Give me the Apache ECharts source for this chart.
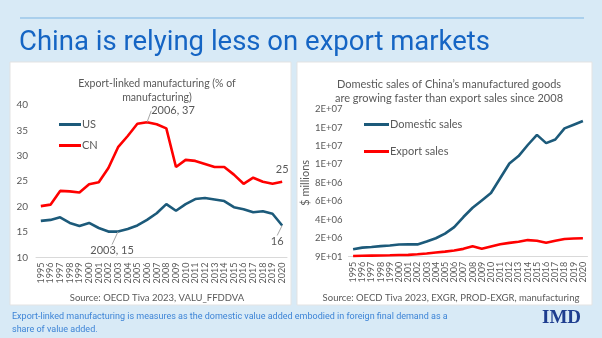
<!DOCTYPE html>
<html><head><meta charset="utf-8">
<script src="https://cdn.jsdelivr.net/npm/echarts@6/dist/echarts.min.js"></script>
<style>html,body{margin:0;padding:0;background:#d8eaf6;}#c{width:602px;height:338px;}</style>
</head><body><div id="c"></div>
<script>
var years = ['1995','1996','1997','1998','1999','2000','2001','2002','2003','2004','2005','2006','2007','2008','2009','2010','2011','2012','2013','2014','2015','2016','2017','2018','2019','2020'];
var usShare = [17.2,17.4,17.9,16.8,16.2,16.8,15.8,15.1,15.1,15.6,16.3,17.4,18.7,20.5,19.2,20.5,21.5,21.7,21.4,21.1,19.9,19.5,18.9,19.1,18.6,16.3];
var cnShare = [20.1,20.4,23.1,23.0,22.8,24.4,24.8,27.6,31.7,33.9,36.3,36.6,36.2,35.4,27.8,29.2,29.0,28.4,27.8,27.8,26.3,24.5,25.7,24.9,24.5,24.9];
var domesticSales = [0.80e6,0.98e6,1.05e6,1.15e6,1.22e6,1.32e6,1.33e6,1.33e6,1.65e6,2.0e6,2.5e6,3.2e6,4.3e6,5.3e6,6.1e6,6.9e6,8.5e6,10.1e6,10.9e6,12.1e6,13.2e6,12.3e6,12.7e6,13.9e6,14.3e6,14.7e6];
var exportSales = [0.08e6,0.1e6,0.12e6,0.13e6,0.15e6,0.18e6,0.2e6,0.27e6,0.35e6,0.45e6,0.55e6,0.68e6,0.85e6,1.12e6,0.85e6,1.1e6,1.34e6,1.5e6,1.62e6,1.8e6,1.73e6,1.5e6,1.72e6,1.92e6,1.97e6,2.0e6];
var rightTickLabels = ['9E+01','2E+06','4E+06','6E+06','8E+06','1E+07','1E+07','1E+07','2E+07'];

var FONT = 'Lato';
var GRAY = '#595959';
var BLUE = '#1c5a7a';
var RED = '#ff0000';

function usData(){
  return usShare.map(function(v,i){
    if (i===8) return {value:v, label:{show:true, formatter:'2003, 15'}, labelLine:{show:true}};
    if (i===25) return {value:v, label:{show:true, formatter:'16'}, labelLine:{show:true}};
    return v;
  });
}
function cnData(){
  return cnShare.map(function(v,i){
    if (i===11) return {value:v, label:{show:true, formatter:'2006, 37'}, labelLine:{show:true}};
    if (i===25) return {value:v, label:{show:true, formatter:'25'}, labelLine:{show:false}};
    return v;
  });
}

var chart = echarts.init(document.getElementById('c'), null, {renderer:'canvas'});
var catAxis = function(gi){ return {
  type:'category', gridIndex:gi, data:years, boundaryGap:true,
  axisLine:{lineStyle:{color:'#d9d9d9'}}, axisTick:{show:false},
  axisLabel:{rotate:90, color:GRAY, fontSize:9, fontFamily:FONT, margin:5, interval:0}
};};

chart.setOption({
  animation:false,
  backgroundColor:'#d8eaf6',
  graphic:[
    {type:'line', shape:{x1:20,y1:18,x2:584,y2:18}, style:{stroke:'#7db5e3', lineWidth:1}, z:-10},
    {type:'text', left:19, top:29, style:{text:'China is relying less on export markets', fill:'#1565c4', font:'27.5px Roboto'}, z:-10},
    {type:'rect', shape:{x:10,y:62,width:281,height:243}, style:{fill:'#ffffff', stroke:'#e3e3e3'}, z:-20},
    {type:'rect', shape:{x:297,y:62,width:295,height:243}, style:{fill:'#ffffff', stroke:'#e3e3e3'}, z:-20},
    {type:'text', left:12, top:310, style:{text:'Export-linked manufacturing is measures as the domestic value added embodied in foreign final demand as a\nshare of value added.', fill:'#3d84d6', font:'9px Roboto', lineHeight:13}, z:-10},
    {type:'text', left:542, top:309, style:{text:'IMD', fill:'#1e3d8f', font:'bold 19px "Liberation Serif"'}, z:-10}
  ],
  title:[
    {text:'Export-linked manufacturing (% of\nmanufacturing)', left:152, top:72, textAlign:'center',
     textStyle:{color:GRAY, fontSize:10.5, fontWeight:'normal', fontFamily:FONT, lineHeight:14}},
    {text:'Domestic sales of China\u2019s manufactured goods\nare growing faster than export sales since 2008', left:444, top:72, textAlign:'center',
     textStyle:{color:GRAY, fontSize:11, fontWeight:'normal', fontFamily:FONT, lineHeight:14}},
    {text:'Source: OECD Tiva 2023, VALU_FFDDVA', left:152, top:288, textAlign:'center',
     textStyle:{color:GRAY, fontSize:9.5, fontWeight:'normal', fontFamily:FONT}},
    {text:'Source: OECD Tiva 2023, EXGR, PROD-EXGR, manufacturing', left:446, top:288, textAlign:'center',
     textStyle:{color:GRAY, fontSize:9.5, fontWeight:'normal', fontFamily:FONT}}
  ],
  legend:[
    {data:['US'], left:54, top:114, icon:'rect', itemWidth:22, itemHeight:3, itemGap:2,
     textStyle:{color:GRAY, fontSize:11, fontFamily:FONT, padding:[0,0,0,-4]}},
    {data:['CN'], left:54, top:135, icon:'rect', itemWidth:22, itemHeight:3, itemGap:2,
     textStyle:{color:GRAY, fontSize:11, fontFamily:FONT, padding:[0,0,0,-4]}},
    {data:['Domestic sales'], left:359, top:114, icon:'rect', itemWidth:25, itemHeight:3,
     textStyle:{color:GRAY, fontSize:11, fontFamily:FONT, padding:[0,0,0,-4]}},
    {data:['Export sales'], left:359, top:141, icon:'rect', itemWidth:25, itemHeight:3,
     textStyle:{color:GRAY, fontSize:11, fontFamily:FONT, padding:[0,0,0,-4]}}
  ],
  grid:[
    {left:36, top:105, width:251, height:152.5, containLabel:false},
    {left:348.5, top:109, width:239, height:147.7, containLabel:false}
  ],
  xAxis:[catAxis(0), catAxis(1)],
  yAxis:[
    {type:'value', gridIndex:0, min:10, max:40, interval:5, splitLine:{show:false},
     axisLine:{show:false}, axisTick:{show:false},
     axisLabel:{color:GRAY, fontSize:10, fontFamily:FONT, margin:8}},
    {type:'value', gridIndex:1, min:0, max:16e6, interval:2e6, splitLine:{show:false},
     axisLine:{show:false}, axisTick:{show:false},
     name:'$ millions', nameLocation:'middle', nameGap:38, nameRotate:90,
     nameTextStyle:{color:GRAY, fontSize:11, fontFamily:FONT},
     axisLabel:{color:GRAY, fontSize:9.5, fontFamily:FONT, margin:6,
       formatter:function(v){ var k=Math.round(v/2e6); return rightTickLabels[k]||''; }}}
  ],
  series:[
    {name:'US', type:'line', xAxisIndex:0, yAxisIndex:0, data:usData(), showSymbol:true, symbol:'circle', symbolSize:0.01,
     color:BLUE, lineStyle:{width:2.6, color:BLUE},
     label:{show:false, color:GRAY, fontSize:11, fontFamily:FONT},
     labelLine:{show:false, lineStyle:{color:'#a6a6a6', width:1}}},
    {name:'CN', type:'line', xAxisIndex:0, yAxisIndex:0, data:cnData(), showSymbol:true, symbol:'circle', symbolSize:0.01,
     color:RED, lineStyle:{width:2.6, color:RED},
     label:{show:false, color:GRAY, fontSize:11, fontFamily:FONT},
     labelLine:{show:false, lineStyle:{color:'#a6a6a6', width:1}}},
    {name:'Domestic sales', type:'line', xAxisIndex:1, yAxisIndex:1, data:domesticSales, showSymbol:false, symbol:'none',
     color:BLUE, lineStyle:{width:2.6, color:BLUE}},
    {name:'Export sales', type:'line', xAxisIndex:1, yAxisIndex:1, data:exportSales, showSymbol:false, symbol:'none',
     color:RED, lineStyle:{width:2.6, color:RED}}
  ],
  labelLayout:function(p){
    if (p.seriesIndex===1 && p.dataIndex===11) return {dx:26, dy:-1};
    if (p.seriesIndex===1 && p.dataIndex===25) return {dx:0, dy:-2};
    if (p.seriesIndex===0 && p.dataIndex===8) return {dx:-6, dy:29};
    if (p.seriesIndex===0 && p.dataIndex===25) return {dx:-5, dy:26};
    return {};
  }
});
</script></body></html>
